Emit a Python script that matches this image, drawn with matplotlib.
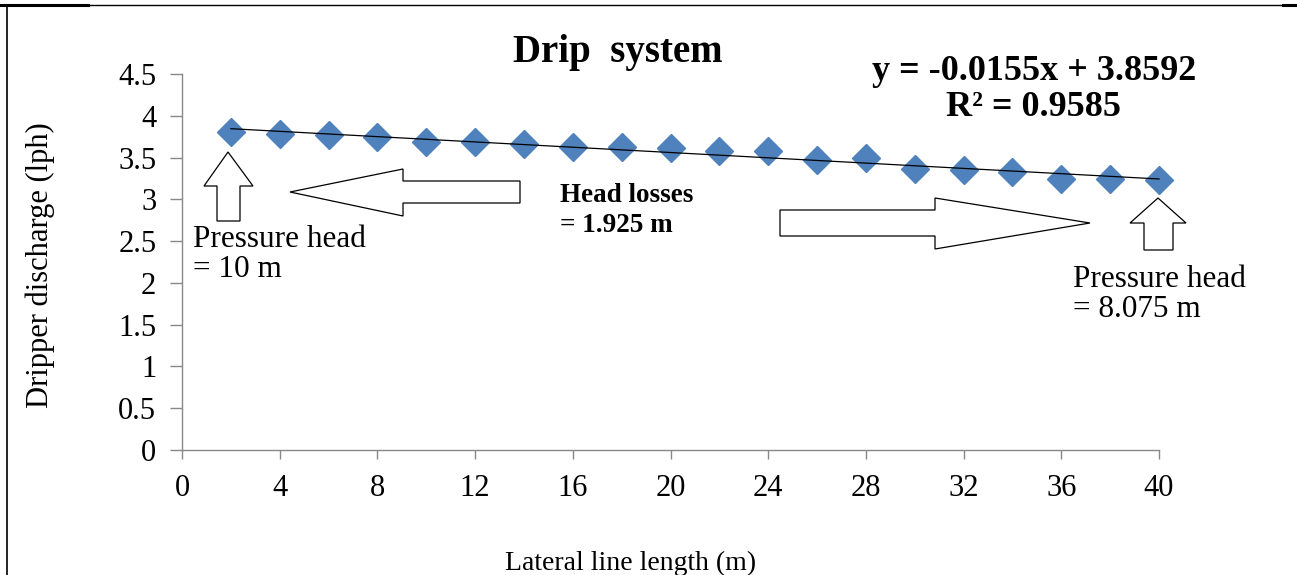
import matplotlib
matplotlib.use('Agg')
import matplotlib.pyplot as plt
from matplotlib.patches import Polygon
from matplotlib.lines import Line2D
import numpy as np

# Data
lateral_length = [2, 4, 6, 8, 10, 12, 14, 16, 18, 20,
                  22, 24, 26, 28, 30, 32, 34, 36, 38, 40]
discharge = [3.80, 3.78, 3.775, 3.745, 3.69, 3.685, 3.66, 3.63, 3.63, 3.61,
             3.58, 3.58, 3.475, 3.495, 3.365, 3.35, 3.325, 3.24, 3.24, 3.235]
x_ticks = [0, 4, 8, 12, 16, 20, 24, 28, 32, 36, 40]
y_ticks = [0, 0.5, 1, 1.5, 2, 2.5, 3, 3.5, 4, 4.5]
y_tick_labels = ['0', '0.5', '1', '1.5', '2', '2.5', '3', '3.5', '4', '4.5']

W, H = 1297, 575
plt.rcParams['font.family'] = ['Liberation Serif', 'DejaVu Serif']

fig = plt.figure(figsize=(W / 100, H / 100), dpi=100)


def fpos(px, py):
  # pixel position (top-left origin) -> figure fraction
  return px / W, 1 - py / H


ax = fig.add_axes([182 / W, 1 - 450 / H, (1159 - 182) / W, (450 - 74) / H])

# Scatter + linear trend line
ax.plot(lateral_length, discharge, linestyle='none', marker='D',
        markersize=14.5, color='#4F81BD', markeredgecolor='#4F81BD',
        zorder=3, clip_on=False)
slope, intercept = np.polyfit(lateral_length, discharge, 1)
xs = np.array([lateral_length[0], lateral_length[-1]])
ax.plot(xs, slope * xs + intercept, color='black', linewidth=0.9,
        zorder=4, clip_on=False)

ax.set_xlim(0, 40)
ax.set_ylim(0, 4.5)
ax.set_xticks(x_ticks)
ax.set_yticks(y_ticks)
ax.set_yticklabels(y_tick_labels)

for s in ['top', 'right']:
  ax.spines[s].set_visible(False)
for s in ['left', 'bottom']:
  ax.spines[s].set_color('#888888')
  ax.spines[s].set_linewidth(1.0)
ax.tick_params(axis='x', length=6.5, width=1.0, color='#888888', pad=11, labelsize=22)
ax.tick_params(axis='y', length=8.5, width=1.0, color='#888888', pad=10, labelsize=22)

# Axis titles
fig.text(*fpos(40, 265), 'Dripper discharge (lph)', rotation=90,
         ha='center', va='center', fontsize=22)
fig.text(*fpos(631, 563), 'Lateral line length (m)', ha='center', va='center', fontsize=20)

# Chart title and regression equation
fig.text(*fpos(618, 62), 'Drip  system', ha='center', va='baseline',
         fontsize=28, fontweight='bold')
fig.text(*fpos(1034, 80), 'y = -0.0155x + 3.8592', ha='center', va='baseline',
         fontsize=26, fontweight='bold')
fig.text(*fpos(1034, 116), 'R² = 0.9585', ha='center', va='baseline',
         fontsize=26, fontweight='bold')

# Annotations
fig.text(*fpos(193, 247), 'Pressure head', ha='left', va='baseline', fontsize=22.5)
fig.text(*fpos(193, 277), '= 10 m', ha='left', va='baseline', fontsize=22.5)
fig.text(*fpos(1073, 287), 'Pressure head', ha='left', va='baseline', fontsize=22.5)
fig.text(*fpos(1073, 317), '= 8.075 m', ha='left', va='baseline', fontsize=22.5)
fig.text(*fpos(560, 202), 'Head losses', ha='left', va='baseline',
         fontsize=19.5, fontweight='bold')
fig.text(*fpos(560, 232), '= 1.925 m', ha='left', va='baseline',
         fontsize=19.5, fontweight='bold')


def block_arrow(pts):
  poly = Polygon([fpos(x, y) for x, y in pts], closed=True, facecolor='white',
                 edgecolor='black', linewidth=0.9, transform=fig.transFigure)
  fig.patches.append(poly)


# up arrow at the start of the lateral
block_arrow([(228, 152), (253, 186), (240, 186), (240, 221),
             (217, 221), (217, 186), (204, 186)])
# left-pointing arrow
block_arrow([(290, 192), (403, 169), (403, 181), (520, 181),
             (520, 203), (403, 203), (403, 216)])
# right-pointing arrow
block_arrow([(1090, 223), (935, 198), (935, 210), (780, 210),
             (780, 236), (935, 236), (935, 249)])
# up arrow at the end of the lateral
block_arrow([(1158, 198), (1186, 223), (1173, 223), (1173, 250),
             (1144, 250), (1144, 223), (1130, 223)])

# page frame lines
fig.add_artist(Line2D([7 / W, 7 / W], [1 - 5 / H, 0], color='black',
                      linewidth=1.2, transform=fig.transFigure))
fig.add_artist(Line2D([7 / W, 1290 / W], [1 - 5 / H, 1 - 5 / H], color='black',
                      linewidth=1.0, transform=fig.transFigure))
fig.add_artist(Line2D([0, 88 / W], [1 - 5 / H, 1 - 5 / H], color='black',
                      linewidth=2.2, transform=fig.transFigure))
fig.add_artist(Line2D([1283 / W, 1], [1 - 5 / H, 1 - 5 / H], color='black',
                      linewidth=2.2, transform=fig.transFigure))

fig.savefig('out.png', dpi=100, facecolor='white')
